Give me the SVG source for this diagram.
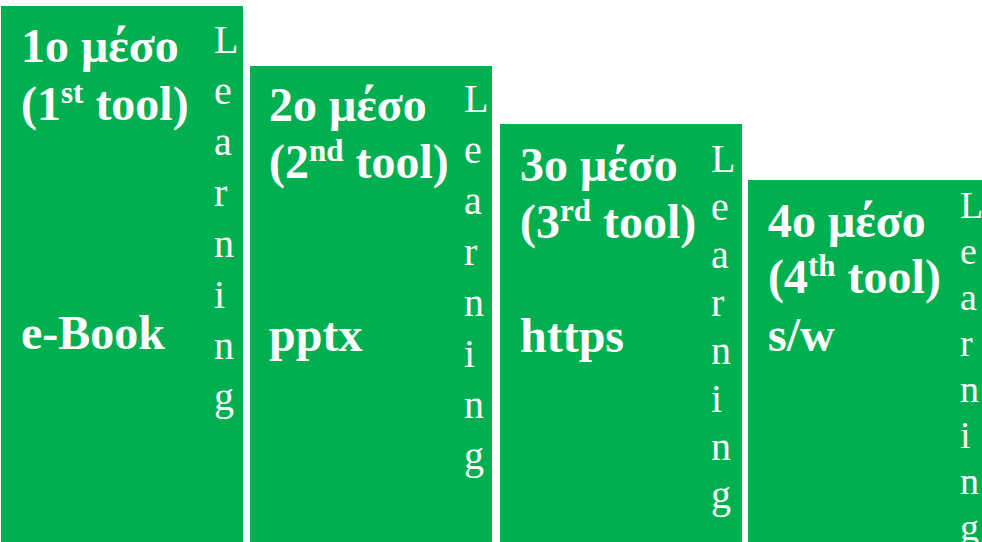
<svg xmlns="http://www.w3.org/2000/svg" width="982" height="542" viewBox="0 0 982 542">
<style>
.box{fill:#00B050;}
.t{font-family:"Liberation Serif","Times New Roman",serif;font-weight:bold;font-size:48px;fill:#fff;}
.sup{font-size:31px;}
.v{font-family:"Liberation Serif","Times New Roman",serif;font-size:40px;fill:#fff;}
.v4{font-size:38px;}
</style>
<rect width="982" height="542" fill="#fff"/>
<g id="node1">
<rect class="box" x="1" y="6" width="242" height="540"/>
<text class="t" x="21" y="62">1o μέσο</text>
<text class="t" x="21" y="120">(1<tspan class="sup" dy="-17">st</tspan><tspan dy="17"> tool)</tspan></text>
<text class="t" x="21" y="349">e-Book</text>
<text class="v"><tspan x="214" y="53">L</tspan><tspan x="214" y="104">e</tspan><tspan x="214" y="155">a</tspan><tspan x="214" y="206">r</tspan><tspan x="214" y="257">n</tspan><tspan x="214" y="308">i</tspan><tspan x="214" y="359">n</tspan><tspan x="214" y="410">g</tspan></text>
</g>
<g id="node2">
<rect class="box" x="250" y="66" width="242" height="480"/>
<text class="t" x="269" y="121">2o μέσο</text>
<text class="t" x="269" y="178">(2<tspan class="sup" dy="-17">nd</tspan><tspan dy="17"> tool)</tspan></text>
<text class="t" x="269" y="351">pptx</text>
<text class="v"><tspan x="464" y="112">L</tspan><tspan x="464" y="163">e</tspan><tspan x="464" y="214">a</tspan><tspan x="464" y="265">r</tspan><tspan x="464" y="316">n</tspan><tspan x="464" y="367">i</tspan><tspan x="464" y="418">n</tspan><tspan x="464" y="469">g</tspan></text>
</g>
<g id="node3">
<rect class="box" x="500" y="124" width="242" height="420"/>
<text class="t" x="520" y="181">3o μέσο</text>
<text class="t" x="520" y="238">(3<tspan class="sup" dy="-17">rd</tspan><tspan dy="17"> tool)</tspan></text>
<text class="t" x="520" y="352">https</text>
<text class="v"><tspan x="711" y="172">L</tspan><tspan x="711" y="220">e</tspan><tspan x="711" y="268">a</tspan><tspan x="711" y="316">r</tspan><tspan x="711" y="364">n</tspan><tspan x="711" y="412">i</tspan><tspan x="711" y="460">n</tspan><tspan x="711" y="508">g</tspan></text>
</g>
<g id="node4">
<rect class="box" x="748" y="180" width="242" height="364"/>
<text class="t" x="768" y="237">4o μέσο</text>
<text class="t" x="768" y="293">(4<tspan class="sup" dy="-17">th</tspan><tspan dy="17"> tool)</tspan></text>
<text class="t" x="768" y="351">s/w</text>
<text class="v v4"><tspan x="960" y="218">L</tspan><tspan x="960" y="264">e</tspan><tspan x="960" y="310">a</tspan><tspan x="960" y="356">r</tspan><tspan x="960" y="402">n</tspan><tspan x="960" y="448">i</tspan><tspan x="960" y="494">n</tspan><tspan x="960" y="540">g</tspan></text>
</g>
<g id="connectors"></g>
</svg>
